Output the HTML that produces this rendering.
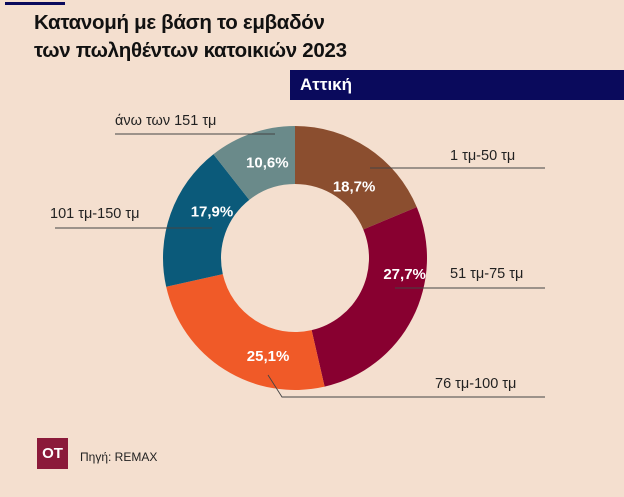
<!DOCTYPE html>
<html><head><meta charset="utf-8"><style>
body{margin:0;background:#f4dfcf;font-family:"Liberation Sans","DejaVu Sans",sans-serif}
#wrap{position:relative;width:624px;height:497px;overflow:hidden;background:#f4dfcf}
.t{position:absolute;white-space:nowrap}
</style></head><body>
<div id="wrap">
<div class="t" style="left:5px;top:2px;width:60px;height:3px;background:#0a0a5c"></div>
<div class="t" style="left:34px;top:9px;font-size:20.5px;line-height:28px;color:#111;font-weight:bold;letter-spacing:-0.3px">Κατανομή με βάση το εμβαδόν<br>των πωληθέντων κατοικιών 2023</div>
<div class="t" style="left:290px;top:70px;width:334px;height:30px;background:#0a0a5c;color:#fff;font-size:17px;font-weight:bold;line-height:30px;padding-left:10px;box-sizing:border-box">Αττική</div>
<svg id="svg" width="624" height="497" style="position:absolute;left:0;top:0"></svg>
<div class="t" style="left:37px;top:438px;width:31px;height:31px;background:#8b1a3a;color:#fff;font-weight:bold;font-size:15px;line-height:31px;text-align:center">OT</div>
<div class="t" style="left:80px;top:450px;font-size:12px;color:#222">Πηγή: REMAX</div>
</div>
<script>
const categories=["1 τμ-50 τμ","51 τμ-75 τμ","76 τμ-100 τμ","101 τμ-150 τμ","άνω των  151 τμ"];
const values=[18.7,27.7,25.1,17.9,10.6];
const valueLabels=["18,7%","27,7%","25,1%","17,9%","10,6%"];
const colors=["#8b4e2f","#880030","#f05a28","#0b5a7a","#6a8a8a"];
const svg=document.getElementById('svg');const NS="http://www.w3.org/2000/svg";
const cx=295,cy=258,R=132,r=74;
const total=values.reduce((a,b)=>a+b,0);
function pt(a,rad){return [cx+rad*Math.sin(a),cy-rad*Math.cos(a)];}
let acc=0;
const nudge=[[2,14],[18,-31],[28,11],[14,-12],[6,2]];
const labelPos=[{tx:450,ty:160,pts:"370,168 545,168"},
{tx:450,ty:278,pts:"395,288 545,288"},
{tx:435,ty:388,pts:"268,375 282,397 545,397"},
{tx:50,ty:218,pts:"55,228 212,228"},
{tx:115,ty:125,pts:"115,134 275,134"}];
const lines=[];
values.forEach((v,i)=>{
 const a0=acc/total*2*Math.PI;acc+=v;const a1=acc/total*2*Math.PI;
 const large=(a1-a0)>Math.PI?1:0;
 const [x0,y0]=pt(a0,R),[x1,y1]=pt(a1,R),[x2,y2]=pt(a1,r),[x3,y3]=pt(a0,r);
 const p=document.createElementNS(NS,'path');
 p.setAttribute('d',`M${x0},${y0}A${R},${R} 0 ${large} 1 ${x1},${y1}L${x2},${y2}A${r},${r} 0 ${large} 0 ${x3},${y3}Z`);
 p.setAttribute('fill',colors[i]);
 
 
 svg.appendChild(p);
 const am=(a0+a1)/2;const [lx,ly]=pt(am,(R+r)/2);
 const t=document.createElementNS(NS,'text');
 t.setAttribute('x',lx+nudge[i][0]);t.setAttribute('y',ly+5+nudge[i][1]);t.setAttribute('text-anchor','middle');
 t.setAttribute('fill','#fff');t.setAttribute('font-size','15');t.setAttribute('font-weight','bold');
 t.setAttribute('font-family','Liberation Sans, sans-serif');
 
 
 t.textContent=valueLabels[i];lines.push(t);
 const L=labelPos[i];
 const ln=document.createElementNS(NS,'polyline');
 ln.setAttribute('points',L.pts);ln.setAttribute('fill','none');
 ln.setAttribute('stroke','#444');ln.setAttribute('stroke-width','0.9');
 
 
 lines.push(ln);
 const ct=document.createElementNS(NS,'text');
 ct.setAttribute('x',L.tx);ct.setAttribute('y',L.ty);ct.setAttribute('font-size','14.5');ct.setAttribute('fill','#222');
 ct.setAttribute('font-family','Liberation Sans, sans-serif');ct.setAttribute('xml:space','preserve');
 
 
 ct.textContent=categories[i];lines.push(ct);
});
lines.forEach(e=>svg.appendChild(e));
</script>
</body></html>
